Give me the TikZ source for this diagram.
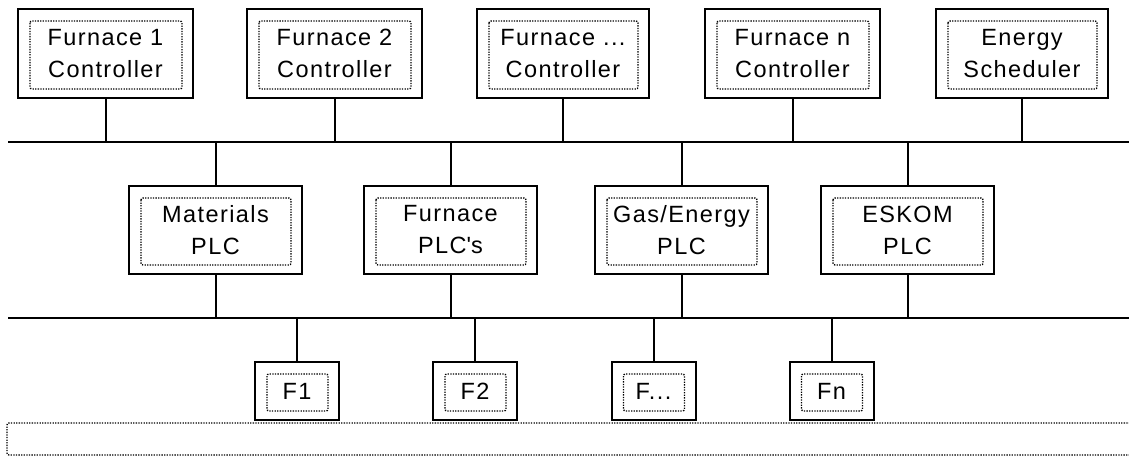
\documentclass[tikz,border=0pt]{standalone}
\usepackage{fontspec}
\setmainfont{Liberation Sans}[LetterSpace=6]
\usetikzlibrary{positioning}

\begin{document}
\begin{tikzpicture}[
  x=1pt, y=-1pt,
  line width=2pt,
  unit/.style={rectangle, draw, minimum width=175pt, minimum height=89pt, inner sep=0pt, align=center,
    font=\fontsize{23.5}{32}\selectfont,
    path picture={\draw[line width=1.4pt, dash pattern=on 1.3pt off 1.3pt, rounded corners=2pt]
      ([shift={(12pt,-12pt)}]path picture bounding box.north west) rectangle
      ([shift={(-11pt,9pt)}]path picture bounding box.south east);}},
  plc/.style={unit, minimum width=173pt, minimum height=88pt},
  drive/.style={unit, minimum width=84pt, minimum height=58pt},
  field/.style={rectangle, draw, line width=1.4pt, dash pattern=on 1.3pt off 1.3pt, rounded corners=2pt,
    minimum width=1133pt, minimum height=32pt, inner sep=0pt}
]
  \useasboundingbox (0,0) rectangle (1129,457);

  \node[unit] (fc1) at (105.5,53.5) {Furnace 1\\Controller};
  \node[unit] (fc2) at (334.5,53.5) {Furnace 2\\Controller};
  \node[unit, minimum width=172pt] (fc3) at (563,53.5) {Furnace ...\\Controller};
  \node[unit] (fcn) at (792.5,53.5) {Furnace n\\Controller};
  \node[unit, minimum width=172pt] (sched) at (1022,53.5) {Energy\\Scheduler};

  \coordinate (bus1w) at (8,142);
  \coordinate (bus1e) at (1129,142);
  \draw (bus1w) -- (bus1e);

  \node[plc] (mat) at (215.5,230) {Materials\\PLC};
  \node[plc] (fplc) at (450.5,230) {Furnace\\PLC\textquotesingle s};
  \node[plc] (gas) at (681.5,230) {Gas/Energy\\PLC};
  \node[plc] (eskom) at (907.5,230) {ESKOM\\PLC};

  \coordinate (bus2w) at (8,318);
  \coordinate (bus2e) at (1129,318);
  \draw (bus2w) -- (bus2e);

  \node[field] (plant) at (573.5,439) {};

  \node[drive] (f1) at (297,391) {F1};
  \node[drive] (f2) at (475,391) {F2};
  \node[drive] (fx) at (653.5,391) {F...};
  \node[drive] (fn) at (831.5,391) {Fn};

  \foreach \n in {fc1,fc2,fc3,fcn,sched}
    \draw (\n.south) -- (\n.south |- bus1w);
  \foreach \n in {mat,fplc,gas,eskom} {
    \draw (\n.north) -- (\n.north |- bus1w);
    \draw (\n.south) -- (\n.south |- bus2w);
  }
  \foreach \n in {f1,f2,fx,fn}
    \draw (\n.north) -- (\n.north |- bus2w);
\end{tikzpicture}
\end{document}
